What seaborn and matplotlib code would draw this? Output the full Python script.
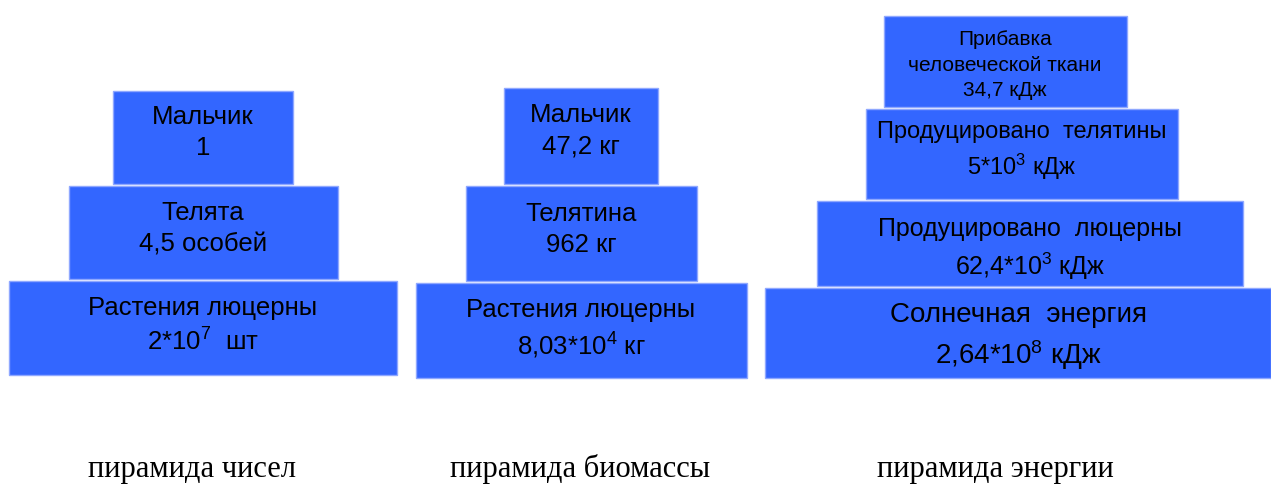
"""Экологические пирамиды: чисел, биомассы и энергии."""

import matplotlib.pyplot as plt
import numpy as np
import seaborn as sns

# Уровни пирамид снизу вверх
уровни_чисел = ["Растения люцерны\n2*10$^{7}$  шт", "Телята\n4,5 особей", "Мальчик\n1"]
ширина_чисел = [388, 269, 180]

уровни_биомассы = ["Растения люцерны\n8,03*10$^{4}$ кг", "Телятина\n962 кг", "Мальчик\n47,2 кг"]
ширина_биомассы = [331, 231, 154]

уровни_энергии = [
    "Солнечная  энергия\n2,64*10$^{8}$ кДж",
    "Продуцировано  люцерны\n62,4*10$^{3}$ кДж",
    "Продуцировано  телятины\n5*10$^{3}$ кДж",
    "Прибавка\nчеловеческой ткани\n34,7 кДж",
]
ширина_энергии = [506, 426, 312, 243]

подписи = ["пирамида чисел", "пирамида биомассы", "пирамида энергии"]

# Раскладка (пиксели)
пирамиды = [
    dict(уровни=уровни_чисел, ширина=ширина_чисел, центр=[203, 203, 203], низ=376,
         высоты=[94, 93, 93], шрифт=[18.5, 18.5, 18.5], отступ=[14, 14, 13],
         интервал=[1.38, 1.38, 1.38], x_подписи=192),
    dict(уровни=уровни_биомассы, ширина=ширина_биомассы, центр=[581, 581, 581], низ=379,
         высоты=[95, 95, 96], шрифт=[18.5, 18.5, 18.5], отступ=[14, 15, 14],
         интервал=[1.38, 1.38, 1.38], x_подписи=580),
    dict(уровни=уровни_энергии, ширина=ширина_энергии, центр=[1018, 1030, 1022, 1005], низ=379,
         высоты=[90, 85, 90, 91], шрифт=[20, 18, 17, 15], отступ=[13, 15, 11, 13],
         интервал=[1.4, 1.4, 1.38, 1.45], x_подписи=995),
]
ЗАЗОР = 2
СИНИЙ = "#3366FF"

sns.set_theme(style="white")
plt.rcParams["font.family"] = ["Liberation Sans", "DejaVu Sans"]
plt.rcParams["mathtext.fontset"] = "custom"
plt.rcParams["mathtext.rm"] = "Liberation Sans"
plt.rcParams["mathtext.it"] = "Liberation Sans"

fig = plt.figure(figsize=(12.71, 4.85), dpi=100)
ax = fig.add_axes([0, 0, 1, 1])
ax.set_xlim(0, 1271)
ax.set_ylim(485, 0)
ax.axis("off")

for п in пирамиды:
    ширина = np.array(п["ширина"], dtype=float)
    центры = np.array(п["центр"], dtype=float)
    высоты = np.array(п["высоты"], dtype=float)
    низы = п["низ"] - np.concatenate([[0], np.cumsum(высоты + ЗАЗОР)[:-1]])
    верхи = низы - высоты
    ax.barh((низы + верхи) / 2, ширина, height=высоты, left=центры - ширина / 2,
            color=СИНИЙ, edgecolor="#8fa8ff", linewidth=1)
    for текст, x, верх, размер, отступ, интервал in zip(
            п["уровни"], центры, верхи, п["шрифт"], п["отступ"], п["интервал"]):
        ax.text(x, верх + отступ, текст, ha="center", va="top",
                fontsize=размер, linespacing=интервал, color="black")

for п, подпись in zip(пирамиды, подписи):
    ax.text(п["x_подписи"], 477, подпись, ha="center", va="baseline",
            fontsize=22, family=["Liberation Serif"], color="black")

plt.savefig("out.png", dpi=100)
